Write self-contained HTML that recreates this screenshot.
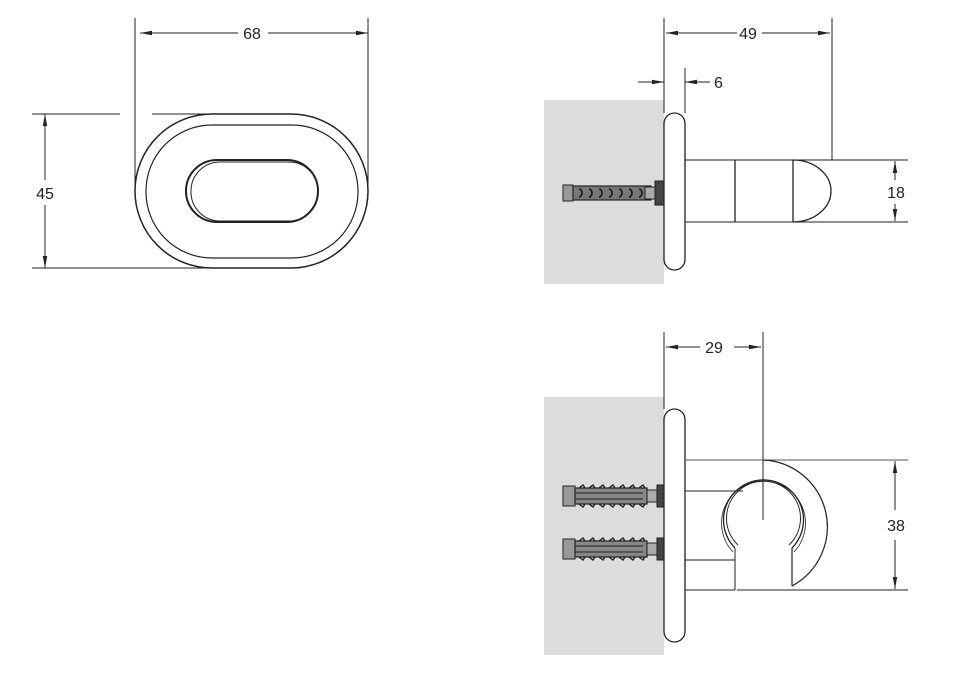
<!DOCTYPE html>
<html><head><meta charset="utf-8"><style>
html,body{margin:0;padding:0;background:#fff;}
svg{display:block;}
text{font-family:"Liberation Sans",sans-serif;font-size:16px;fill:#222;}
</style></head><body>
<svg width="956" height="686" viewBox="0 0 956 686" xmlns="http://www.w3.org/2000/svg">
<defs>
<marker id="ar" markerWidth="12" markerHeight="6" refX="12" refY="3" orient="auto" markerUnits="userSpaceOnUse">
<path d="M0,0.8 L12,3 L0,5.2 Z" fill="#222"/>
</marker>
<g id="anc1">
<rect x="0" y="-8" width="10" height="16" fill="#999" stroke="#222" stroke-width="1"/>
<rect x="10" y="-7" width="78" height="14" fill="#777" stroke="#222" stroke-width="1.2"/>
<g fill="none" stroke="#111" stroke-width="1.5">
<path d="M16,-4 a3,4 0 1 1 0,8 M26,-4 a3,4 0 1 1 0,8 M36,-4 a3,4 0 1 1 0,8 M46,-4 a3,4 0 1 1 0,8 M56,-4 a3,4 0 1 1 0,8 M66,-4 a3,4 0 1 1 0,8 M76,-4 a3,4 0 1 1 0,8"/>
</g>
<rect x="82" y="-6" width="10" height="12" fill="#aaa" stroke="#222"/>
<rect x="92" y="-12" width="9" height="24" fill="#444" stroke="#222"/>
</g>
<g id="anc2">
<rect x="0" y="-10" width="12" height="20" fill="#999" stroke="#222"/>
<rect x="12" y="-8" width="72" height="16" fill="#888" stroke="#222" stroke-width="1.2"/>
<path d="M16,-8 l4,-3 l2,3 M26,-8 l4,-3 l2,3 M36,-8 l4,-3 l2,3 M46,-8 l4,-3 l2,3 M56,-8 l4,-3 l2,3 M66,-8 l4,-3 l2,3 M76,-8 l4,-3 l2,3 M16,8 l4,3 l2,-3 M26,8 l4,3 l2,-3 M36,8 l4,3 l2,-3 M46,8 l4,3 l2,-3 M56,8 l4,3 l2,-3 M66,8 l4,3 l2,-3 M76,8 l4,3 l2,-3" fill="none" stroke="#222" stroke-width="1.4"/>
<line x1="12" y1="-3" x2="80" y2="-3" stroke="#222"/><line x1="12" y1="3" x2="80" y2="3" stroke="#222"/>
<rect x="84" y="-6" width="10" height="12" fill="#aaa" stroke="#222"/>
<rect x="94" y="-11" width="7" height="22" fill="#444" stroke="#222"/>
</g>
</defs>
<g stroke="#222" stroke-width="1" fill="none">
<line x1="135" y1="18" x2="135" y2="190"/>
<line x1="368" y1="18" x2="368" y2="185"/>
<line x1="238" y1="33" x2="140" y2="33" marker-end="url(#ar)"/>
<line x1="268" y1="33" x2="368" y2="33" marker-end="url(#ar)"/>
<line x1="32" y1="114" x2="120" y2="114"/>
<line x1="152" y1="114" x2="230" y2="114"/>
<line x1="32" y1="268" x2="300" y2="268"/>
<line x1="45" y1="180" x2="45" y2="114" marker-end="url(#ar)"/>
<line x1="45" y1="205" x2="45" y2="268" marker-end="url(#ar)"/>
<rect x="135" y="114" width="233" height="154" rx="77" ry="77" stroke-width="1.5"/>
<rect x="146" y="125" width="212" height="133" rx="66" ry="66" stroke-width="1.2"/>
<rect x="186" y="160" width="132" height="62" rx="31" ry="31" stroke-width="2"/>
<rect x="191" y="162" width="127" height="59" rx="29" ry="29" stroke-width="1"/>
</g>
<text x="252" y="39" text-anchor="middle">68</text>
<text x="45" y="199" text-anchor="middle">45</text>

<rect x="544" y="100" width="120" height="184" fill="#dcdcdc"/>
<use href="#anc1" x="563" y="193"/>
<g stroke="#222" stroke-width="1" fill="none">
<line x1="664" y1="18" x2="664" y2="113"/>
<line x1="685" y1="68" x2="685" y2="113"/>
<line x1="832" y1="18" x2="832" y2="160"/>
<line x1="737" y1="33" x2="666" y2="33" marker-end="url(#ar)"/>
<line x1="762" y1="33" x2="830" y2="33" marker-end="url(#ar)"/>
<line x1="638" y1="82" x2="664" y2="82" marker-end="url(#ar)"/>
<line x1="710" y1="82" x2="685" y2="82" marker-end="url(#ar)"/>
<rect x="664" y="113" width="21" height="157" rx="10.5" ry="10.5" fill="#fff" stroke-width="1.3"/>
<line x1="685" y1="160" x2="908" y2="160"/>
<line x1="685" y1="222" x2="908" y2="222"/>
<line x1="735" y1="160" x2="735" y2="222" stroke-width="1.3"/>
<line x1="793" y1="160" x2="793" y2="222" stroke-width="1.3"/>
<path d="M793,160 A38,31 0 0 1 793,222" stroke-width="1.3"/>
<line x1="895" y1="180" x2="895" y2="161" marker-end="url(#ar)"/>
<line x1="895" y1="204" x2="895" y2="221" marker-end="url(#ar)"/>
</g>
<text x="748" y="39" text-anchor="middle">49</text>
<text x="714" y="88">6</text>
<text x="896" y="198" text-anchor="middle">18</text>

<rect x="544" y="397" width="120" height="258" fill="#dcdcdc"/>
<use href="#anc2" x="563" y="496"/>
<use href="#anc2" x="563" y="549"/>
<g stroke="#222" stroke-width="1" fill="none">
<line x1="664" y1="332" x2="664" y2="409"/>
<line x1="763" y1="332" x2="763" y2="520"/>
<line x1="700" y1="347" x2="666" y2="347" marker-end="url(#ar)"/>
<line x1="734" y1="347" x2="761" y2="347" marker-end="url(#ar)"/>
<rect x="664" y="409" width="21" height="233" rx="10.5" ry="10.5" fill="#fff" stroke-width="1.3"/>
<line x1="685" y1="460" x2="908" y2="460" stroke="#555"/>
<line x1="685" y1="491" x2="743" y2="491"/>
<line x1="685" y1="560" x2="735" y2="560"/>
<line x1="685" y1="590" x2="735" y2="590"/>
<line x1="737" y1="590" x2="908" y2="590"/>
<line x1="735" y1="548" x2="735" y2="590"/>
<path d="M763,460 A67,67 0 0 1 792,586" stroke-width="1.2"/>
<line x1="792" y1="548" x2="792" y2="586" stroke-width="1.2"/>
<path d="M735,548 A40,40 0 1 1 792,548" stroke-width="1.3"/>
<path d="M738,545 A37,37 0 1 1 789,545" stroke-width="1"/>
<path d="M733,552 A42,42 0 1 1 794,552" stroke-width="0.8"/>
<line x1="895" y1="510" x2="895" y2="461" marker-end="url(#ar)"/>
<line x1="895" y1="540" x2="895" y2="589" marker-end="url(#ar)"/>
</g>
<text x="714" y="353" text-anchor="middle">29</text>
<text x="896" y="531" text-anchor="middle">38</text>
</svg>
</body></html>
